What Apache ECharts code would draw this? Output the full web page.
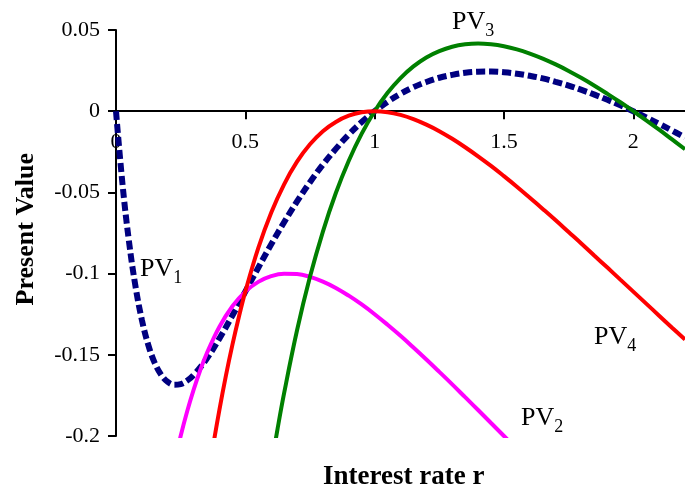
<!DOCTYPE html>
<html>
<head>
<meta charset="utf-8">
<script src="https://cdn.jsdelivr.net/npm/echarts@6/dist/echarts.min.js"></script>
<style>
html,body{margin:0;padding:0;background:#fff;}
#chart{width:685px;height:491px;}
</style>
</head>
<body>
<div id="chart"></div>
<script>
// Interest rates (x) and present values (y)
const pv1Rates = [0,0.025,0.05,0.075,0.1,0.125,0.15,0.175,0.2,0.225,0.25,0.275,0.3,0.35,0.4,0.45,0.5,0.55,0.6,0.65,0.7,0.75,0.8,0.85,0.9,0.95,1.0,1.05,1.1,1.15,1.2,1.25,1.3,1.35,1.4,1.45,1.5,1.55,1.6,1.65,1.7,1.75,1.8,1.85,1.9,1.95,2.0,2.05,2.1,2.15,2.2];
const pv1Values = [0,-0.0447,-0.0800,-0.1075,-0.1285,-0.1440,-0.1551,-0.1624,-0.1667,-0.1684,-0.1680,-0.1659,-0.1625,-0.1526,-0.1399,-0.1258,-0.1111,-0.0964,-0.0820,-0.0684,-0.0556,-0.0437,-0.0329,-0.0232,-0.0144,-0.0067,0,0.0058,0.0107,0.0148,0.0180,0.0206,0.0224,0.0237,0.0243,0.0244,0.0240,0.0231,0.0218,0.0202,0.0181,0.0158,0.0131,0.0102,0.0070,0.0036,0,-0.0038,-0.0078,-0.0119,-0.0161];

const pv2Rates = [0.2,0.225,0.25,0.275,0.3,0.325,0.35,0.4,0.45,0.5,0.55,0.6,0.65,0.7,0.75,0.8,0.85,0.9,0.95,1.0,1.05,1.1,1.15,1.2,1.25,1.3,1.35,1.4,1.45,1.5,1.55];
const pv2Values = [-0.2361,-0.2170,-0.2000,-0.1849,-0.1716,-0.1598,-0.1495,-0.1327,-0.1201,-0.1111,-0.1051,-0.1016,-0.1001,-0.1003,-0.1020,-0.1049,-0.1088,-0.1136,-0.1190,-0.1250,-0.1315,-0.1383,-0.1455,-0.1529,-0.1605,-0.1682,-0.1761,-0.1840,-0.1920,-0.2000,-0.2080];

const pv3Rates = [0.55,0.575,0.6,0.625,0.65,0.7,0.75,0.8,0.85,0.9,0.95,1.0,1.05,1.1,1.15,1.2,1.25,1.3,1.35,1.4,1.45,1.5,1.55,1.6,1.65,1.7,1.75,1.8,1.85,1.9,1.95,2.0,2.05,2.1,2.15,2.2];
const pv3Values = [-0.2716,-0.2441,-0.2188,-0.1953,-0.1736,-0.1349,-0.1020,-0.0741,-0.0504,-0.0305,-0.0138,0,0.0113,0.0204,0.0276,0.0331,0.0370,0.0397,0.0412,0.0417,0.0412,0.0400,0.0381,0.0355,0.0324,0.0288,0.0248,0.0204,0.0157,0.0107,0.0055,0,-0.0056,-0.0114,-0.0174,-0.0234];

const pv4Rates = [0.35,0.375,0.4,0.425,0.45,0.475,0.5,0.55,0.6,0.65,0.7,0.75,0.8,0.85,0.9,0.95,1.0,1.05,1.1,1.15,1.2,1.25,1.3,1.35,1.4,1.45,1.5,1.55,1.6,1.65,1.7,1.75,1.8,1.85,1.9,1.95,2.0,2.05,2.1,2.15,2.2];
const pv4Values = [-0.2318,-0.2066,-0.1837,-0.1628,-0.1439,-0.1267,-0.1111,-0.0843,-0.0625,-0.0450,-0.0311,-0.0204,-0.0123,-0.0066,-0.0028,-0.0007,0,-0.0006,-0.0023,-0.0049,-0.0083,-0.0123,-0.0170,-0.0222,-0.0278,-0.0337,-0.0400,-0.0465,-0.0533,-0.0602,-0.0672,-0.0744,-0.0816,-0.0890,-0.0963,-0.1037,-0.1111,-0.1185,-0.1259,-0.1333,-0.1406];

const xTicks = [0, 0.5, 1, 1.5, 2];
const yTicks = [0.05, 0, -0.05, -0.1, -0.15, -0.2];

const xName = 'Interest rate r';
const yName = 'Present Value';
const seriesNames = ['PV1','PV2','PV3','PV4'];

function pairs(xs, ys){ return xs.map((x,i)=>[x, ys[i]]); }

const FONT = '"Liberation Serif","Times New Roman",serif';
const chart = echarts.init(document.getElementById('chart'));

function pvLabel(n, left, top){
  return {
    type:'text', left:left, top:top, z:10,
    style:{
      text:'{a|PV}{b|'+n+'}',
      rich:{
        a:{fontFamily:FONT, fontSize:26, fill:'#000', lineHeight:34, verticalAlign:'bottom'},
        b:{fontFamily:FONT, fontSize:18, fill:'#000', lineHeight:34, verticalAlign:'bottom', padding:[0,0,-5,0]}
      }
    }
  };
}

const GRID_TOP = 30, GRID_H = 406;

chart.setOption({
  animation:false,
  backgroundColor:'#fff',
  grid:{left:116, top:GRID_TOP, width:573, height:GRID_H, containLabel:false},
  xAxis:{
    type:'value', min:0, max:2.2, interval:0.5, position:'bottom',
    // axis drawn at y = 0 (0.05/0.25 of the height from the top)
    offset:-GRID_H*0.8,
    axisLine:{onZero:false, lineStyle:{color:'#000', width:2}},
    axisTick:{show:true, length:8, lineStyle:{color:'#000', width:2}},
    axisLabel:{
      fontFamily:FONT, fontSize:22, color:'#000', margin:20, showMaxLabel:false,
      formatter:v=> xTicks.indexOf(+v.toFixed(2))>=0 ? String(+v.toFixed(2)) : ''
    },
    splitLine:{show:false}
  },
  yAxis:{
    type:'value', min:-0.2, max:0.05, interval:0.05,
    axisLine:{onZero:false, lineStyle:{color:'#000', width:2}},
    axisTick:{show:true, length:8, lineStyle:{color:'#000', width:2}},
    axisLabel:{
      fontFamily:FONT, fontSize:22, color:'#000', margin:16,
      formatter:v=>{ const r=+v.toFixed(2); return yTicks.indexOf(r)>=0 ? String(r) : ''; }
    },
    splitLine:{show:false}
  },
  series:[
    {name:seriesNames[0], type:'line', data:pairs(pv1Rates,pv1Values), smooth:0.4, showSymbol:false, clip:true,
     lineStyle:{color:'#000080', width:6, type:[9,4], cap:'butt'}, z:2},
    {name:seriesNames[1], type:'line', data:pairs(pv2Rates,pv2Values), smooth:0.4, showSymbol:false, clip:true,
     lineStyle:{color:'#FF00FF', width:4}, z:3},
    {name:seriesNames[2], type:'line', data:pairs(pv3Rates,pv3Values), smooth:0.4, showSymbol:false, clip:true,
     lineStyle:{color:'#008000', width:4}, z:4},
    {name:seriesNames[3], type:'line', data:pairs(pv4Rates,pv4Values), smooth:0.4, showSymbol:false, clip:true,
     lineStyle:{color:'#FF0000', width:4}, z:5}
  ],
  graphic:[
    {type:'text', left:323, top:464, style:{text:xName, fontFamily:FONT, fontSize:27, fontWeight:'bold', fill:'#000'}},
    {type:'text', left:13, top:153, rotation:Math.PI/2, style:{text:yName, fontFamily:FONT, fontSize:26, fontWeight:'bold', fill:'#000'}},
    pvLabel(1, 140, 256),
    pvLabel(3, 452, 9),
    pvLabel(2, 521, 405),
    pvLabel(4, 594, 324)
  ]
});
</script>
</body>
</html>
